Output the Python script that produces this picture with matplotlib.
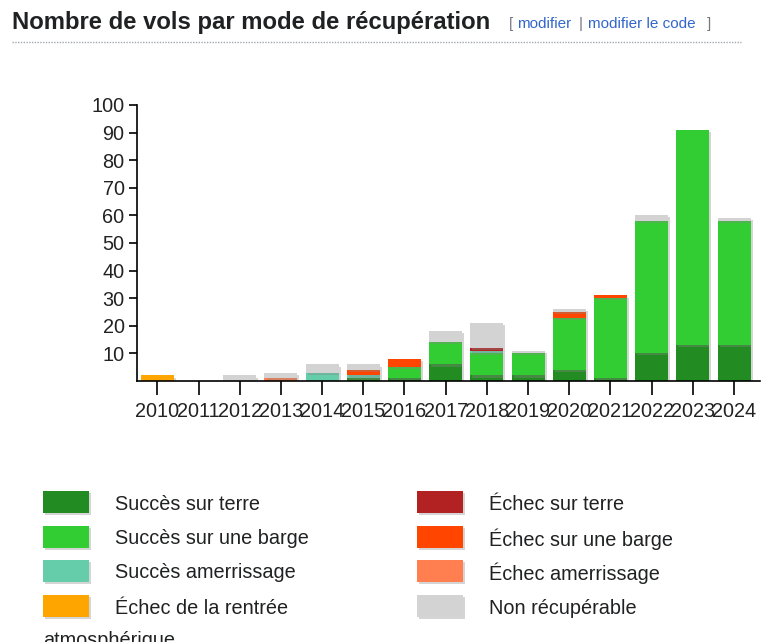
import numpy as np
import matplotlib.pyplot as plt
from matplotlib.patches import Rectangle
import matplotlib.patheffects as pe

plt.rcParams['font.family'] = ['Liberation Sans', 'DejaVu Sans']

# données
years = np.arange(2010, 2025)
succes_terre = [0, 0, 0, 0, 0, 1, 1, 6, 2, 2, 4, 1, 10, 13, 13]
succes_barge = [0, 0, 0, 0, 0, 0, 4, 8, 8, 8, 19, 29, 48, 78, 45]
succes_amerr = [0, 0, 0, 0, 3, 1, 0, 0, 1, 0, 0, 0, 0, 0, 0]
echec_rentree = [2, 0, 0, 0, 0, 0, 0, 0, 0, 0, 0, 0, 0, 0, 0]
echec_terre = [0, 0, 0, 0, 0, 0, 0, 0, 1, 0, 0, 0, 0, 0, 0]
echec_barge = [0, 0, 0, 0, 0, 2, 3, 0, 0, 0, 2, 1, 0, 0, 0]
echec_amerr = [0, 0, 0, 1, 0, 0, 0, 0, 0, 0, 0, 0, 0, 0, 0]
non_recup = [0, 0, 2, 2, 3, 2, 0, 4, 9, 1, 1, 0, 2, 0, 1]

series = [succes_terre, succes_barge, succes_amerr, echec_rentree,
          echec_terre, echec_barge, echec_amerr, non_recup]
colors = ['#228B22', '#32CD32', '#66CDAA', '#FFA500',
          '#B22222', '#FF4500', '#FF7F50', '#D3D3D3']
labels = ['Succès sur terre', 'Succès sur une barge', 'Succès amerrissage',
          'Échec de la rentrée', 'Échec sur terre', 'Échec sur une barge',
          'Échec amerrissage', 'Non récupérable']

W, H = 761, 642
fig = plt.figure(figsize=(W / 100, H / 100), dpi=100)

def fx(px):
    return px / W

def fy(py):
    return 1 - py / H

# titre
fig.text(fx(12), fy(22), 'Nombre de vols par mode de récupération',
         fontsize=17.2, fontweight='bold', color='#202122', va='center', ha='left')
fig.text(fx(509), fy(24), '[', fontsize=11, color='#72777d', va='center')
fig.text(fx(517), fy(24), 'modifier', fontsize=11, color='#3366cc', va='center')
fig.text(fx(579), fy(24), '|', fontsize=11, color='#72777d', va='center')
fig.text(fx(588), fy(24), 'modifier le code', fontsize=11, color='#3366cc', va='center')
fig.text(fx(707), fy(24), ']', fontsize=11, color='#72777d', va='center')
fig.add_artist(plt.Line2D([fx(12), fx(741)], [fy(42), fy(42)],
                          color='#a2a9b1', lw=1, ls=(0, (1, 1))))

# axes
ax = fig.add_axes([fx(137), fy(381), fx(760) - fx(137), fy(105) - fy(381)])
bottom = np.zeros(len(years))
shadow = [pe.SimplePatchShadow(offset=(1.5, -1.5), shadow_rgbFace='#888888', alpha=0.35),
          pe.Normal()]
for vals, c in zip(series, colors):
    vals = np.array(vals, dtype=float)
    bars = ax.bar(years, vals, bottom=bottom, width=0.8, color=c, linewidth=0)
    for b in bars:
        b.set_path_effects(shadow)
    bottom += vals

ax.set_xlim(2009.507, 2024.63)
ax.set_ylim(0, 100)
ax.set_yticks(np.arange(10, 101, 10))
ax.set_xticks(years)
ax.set_xticklabels([str(y) for y in years])
for s in ['top', 'right']:
    ax.spines[s].set_visible(False)
for s in ['left', 'bottom']:
    ax.spines[s].set_color('black')
    ax.spines[s].set_linewidth(1.2)
ax.tick_params(axis='y', length=6, width=1.2, labelsize=14.3, pad=3, colors='black')
ax.tick_params(axis='x', length=10, width=1.2, labelsize=14.3, pad=5, colors='black')
for t in ax.get_xticklabels() + ax.get_yticklabels():
    t.set_color('#222222')

# légende
rows = [502, 537, 571, 606]
for i, (lab, c) in enumerate(zip(labels, colors)):
    col = i // 4
    row = rows[i % 4]
    x0 = 43 if col == 0 else 417
    r = Rectangle((fx(x0), fy(row + 11)), fx(46), fy(row - 11) - fy(row + 11),
                  transform=fig.transFigure, facecolor=c, edgecolor='none',
                  path_effects=shadow)
    fig.add_artist(r)
    fig.text(fx(x0 + 72), fy(row + 2), lab, fontsize=14.3, color='#202122',
             va='center', ha='left')
fig.text(fx(43), fy(640), 'atmosphérique', fontsize=14.3, color='#202122',
         va='center', ha='left')

fig.savefig('out.png', dpi=100)
